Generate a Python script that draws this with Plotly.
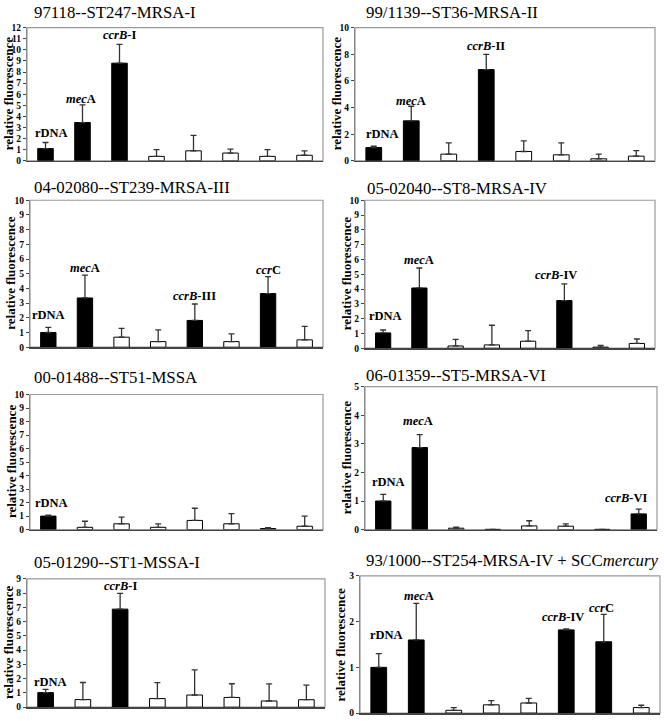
import plotly.graph_objects as go

W, H = 664, 721

titles = [
    "97118--ST247-MRSA-I",
    "99/1139--ST36-MRSA-II",
    "04-02080--ST239-MRSA-III",
    "05-02040--ST8-MRSA-IV",
    "00-01488--ST51-MSSA",
    "06-01359--ST5-MRSA-VI",
    "05-01290--ST1-MSSA-I",
    "93/1000--ST254-MRSA-IV + SCC<i>mercury</i>",
]

categories = list(range(8))

values = [
    [1.1, 3.45, 8.8, 0.4, 0.9, 0.7, 0.4, 0.5],
    [1.0, 3.0, 0.5, 6.85, 0.7, 0.45, 0.15, 0.35],
    [1.0, 3.35, 0.68, 0.38, 1.82, 0.38, 3.65, 0.5],
    [1.03, 4.07, 0.15, 0.22, 0.47, 3.22, 0.07, 0.32],
    [1.0, 0.17, 0.43, 0.17, 0.68, 0.43, 0.08, 0.25],
    [1.0, 2.87, 0.05, 0.01, 0.13, 0.12, 0.01, 0.55],
    [1.02, 0.53, 6.88, 0.6, 0.85, 0.68, 0.43, 0.52],
    [1.0, 1.6, 0.06, 0.18, 0.22, 1.82, 1.56, 0.12],
]

errors = [
    [0.55, 1.6, 1.7, 0.6, 1.4, 0.35, 0.6, 0.4],
    [0.1, 1.1, 0.85, 1.15, 0.8, 0.9, 0.35, 0.42],
    [0.35, 1.55, 0.6, 0.8, 1.12, 0.52, 1.15, 0.92],
    [0.2, 1.35, 0.45, 1.33, 0.72, 1.12, 0.12, 0.3],
    [0.08, 0.45, 0.5, 0.25, 0.9, 0.75, 0.06, 0.75],
    [0.23, 0.45, 0.04, 0.0, 0.18, 0.08, 0.0, 0.17],
    [0.22, 1.2, 1.1, 1.12, 1.76, 0.96, 1.2, 1.02],
    [0.3, 0.8, 0.06, 0.09, 0.1, 0.02, 0.6, 0.05],
]

# 1 = black (target gene detected), 0 = white
filled = [
    [1, 1, 1, 0, 0, 0, 0, 0],
    [1, 1, 0, 1, 0, 0, 0, 0],
    [1, 1, 0, 0, 1, 0, 1, 0],
    [1, 1, 0, 0, 0, 1, 0, 0],
    [1, 0, 0, 0, 0, 0, 0, 0],
    [1, 1, 0, 0, 0, 0, 0, 1],
    [1, 0, 1, 0, 0, 0, 0, 0],
    [1, 1, 0, 0, 0, 1, 1, 0],
]

RD = "<b>rDNA</b>"
MEC = "<b><i>mec</i>A</b>"
def CCRB(s):
    return "<b><i>ccrB</i>-" + s + "</b>"
CCRC = "<b><i>ccr</i>C</b>"

bar_labels = [
    {0: RD, 1: MEC, 2: CCRB("I")},
    {0: RD, 1: MEC, 3: CCRB("II")},
    {0: RD, 1: MEC, 4: CCRB("III"), 6: CCRC},
    {0: RD, 1: MEC, 5: CCRB("IV")},
    {0: RD},
    {0: RD, 1: MEC, 7: CCRB("VI")},
    {0: RD, 2: CCRB("I")},
    {0: RD, 1: MEC, 5: CCRB("IV"), 6: CCRC},
]

y_max = [12, 10, 10, 10, 10, 5, 9, 3]
y_dtick = [1, 2, 1, 1, 1, 1, 1, 1]

# ---- layout / style (pixel boxes: x0, x1, y0(top), y1(bottom)) ----
boxes = [
    (27, 323, 23, 158),
    (355, 655, 23, 158),
    (30, 323, 198, 347),
    (365, 655, 198, 348),
    (30, 323, 395, 532),
    (365, 657, 387, 532),
    (27, 325, 582, 712),
    (360, 660, 579, 718),
]
title_pos = [(32, 8), (364, 8), (32, 185), (365, 186), (32, 378), (364, 376), (32, 565), (364, 563)]
# label offsets in px (dx, dy above error cap to label centre)
label_off = [
    {0: (6, 10), 1: (-2, 6), 2: (0, 9)},
    {0: (9, 12), 1: (0, 5), 3: (0, 8)},
    {0: (0, 12), 1: (0, 7), 4: (0, 8), 6: (0, 7)},
    {0: (2, 14), 1: (0, 8), 5: (-8, 9)},
    {0: (3, 12)},
    {0: (5, 12), 1: (-2, 14), 7: (-12, 11)},
    {0: (5, 7), 2: (0, 7)},
    {0: (8, 19), 1: (3, 7), 5: (-3, 12), 6: (-2, 6)},
]

SERIF = "Liberation Serif, Times New Roman, serif"

fig = go.Figure()
layout = dict(
    width=W, height=H, margin=dict(l=0, r=0, t=0, b=0),
    paper_bgcolor="white", plot_bgcolor="white",
    showlegend=False, font=dict(family=SERIF, color="black"),
)
annotations = []
shapes = []

for i in range(8):
    x0, x1, y0, y1 = boxes[i]
    xa = "xaxis" if i == 0 else f"xaxis{i+1}"
    ya = "yaxis" if i == 0 else f"yaxis{i+1}"
    xr = "x" if i == 0 else f"x{i+1}"
    yr = "y" if i == 0 else f"y{i+1}"
    cols = ["black" if f else "white" for f in filled[i]]
    fig.add_trace(go.Bar(
        x=categories, y=values[i], xaxis=xr, yaxis=yr, width=0.42,
        marker=dict(color=cols, line=dict(color="black", width=1)),
        error_y=dict(type="data", symmetric=False, array=errors[i],
                     arrayminus=[0] * 8, color="#333333", thickness=1.3, width=3),
        hoverinfo="skip",
    ))
    layout[xa] = dict(domain=[x0 / W, x1 / W], anchor=yr, range=[-0.5, 7.5],
                      showticklabels=False, ticks="", showgrid=False, zeroline=False,
                      showline=True, linecolor="#444444", linewidth=1.5, fixedrange=True)
    layout[ya] = dict(domain=[1 - y1 / H, 1 - y0 / H], anchor=xr, range=[0, y_max[i]],
                      dtick=y_dtick[i], tick0=0, ticks="outside", ticklen=3, tickwidth=1,
                      tickcolor="#444444", showgrid=False, zeroline=False,
                      showline=True, linecolor="#888888", linewidth=1, fixedrange=True,
                      tickfont=dict(family=SERIF, size=9.5, color="black"),
                      tickprefix="<b>", ticksuffix="</b>")
    shapes.append(dict(type="rect", xref=f"{xr} domain", yref=f"{yr} domain",
                       x0=0, x1=1, y0=0, y1=1, line=dict(color="#999999", width=1.2),
                       layer="below"))
    tx, ty = title_pos[i]
    annotations.append(dict(text=titles[i], xref="paper", yref="paper",
                            x=tx / W, y=1 - ty / H, xanchor="left", yanchor="middle",
                            showarrow=False, font=dict(family=SERIF, size=16.8, color="black")))
    annotations.append(dict(text="<b>relative fluorescence</b>", xref="paper", yref="paper",
                            x=(x0 - 19) / W, y=1 - ((y0 + y1) / 2) / H, textangle=-90,
                            xanchor="center", yanchor="middle", showarrow=False,
                            font=dict(family=SERIF, size=13, color="black")))
    for k, txt in bar_labels[i].items():
        dx, dy = label_off[i][k]
        annotations.append(dict(text=txt, xref=xr, yref=yr, x=categories[k],
                                y=values[i][k] + errors[i][k], xanchor="center",
                                yanchor="middle", xshift=dx, yshift=dy, showarrow=False,
                                font=dict(family=SERIF, size=12.5, color="black")))

layout["annotations"] = annotations
layout["shapes"] = shapes
fig.update_layout(**layout)
fig.write_html("out.html", config={"displayModeBar": False, "staticPlot": True},
               post_script=["document.body.style.margin='0px';document.body.style.overflow='hidden';"])
